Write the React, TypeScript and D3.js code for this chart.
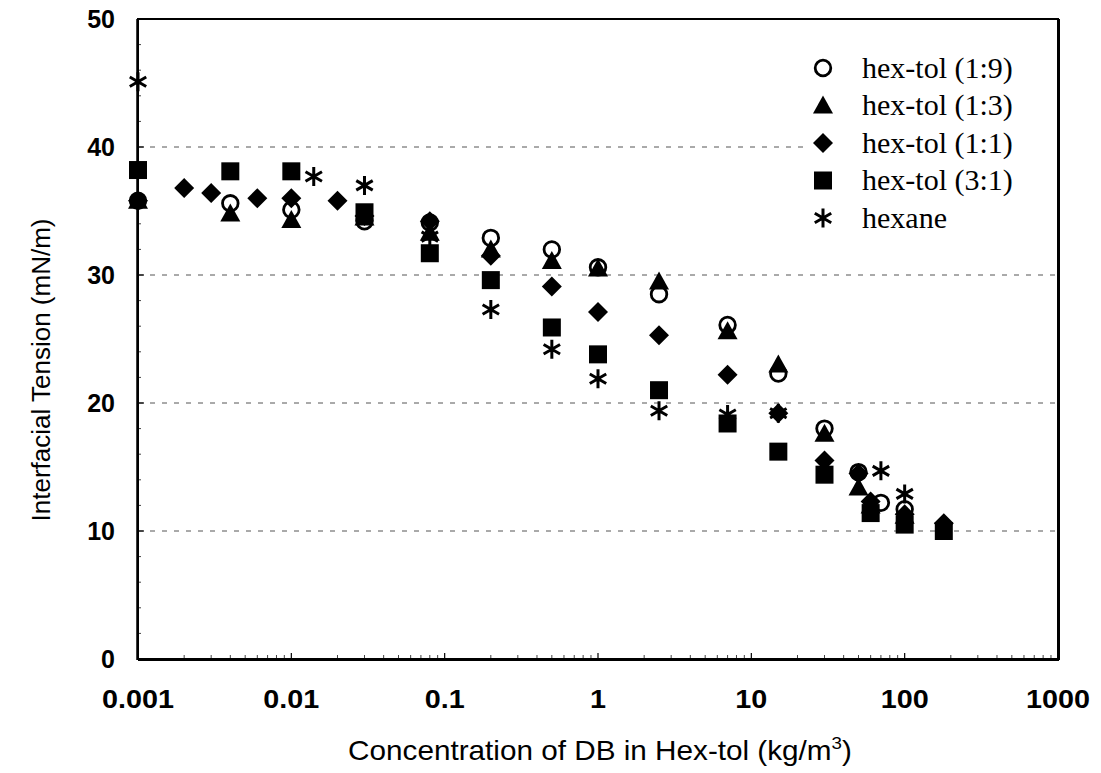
import React from "react";
import * as d3 from "d3";

const xTicks = [0.001, 0.01, 0.1, 1, 10, 100, 1000];
const xTickLabels = ["0.001", "0.01", "0.1", "1", "10", "100", "1000"];
const yTicks = [0, 10, 20, 30, 40, 50];
const gridValues = [10, 20, 30, 40];

const circleX = [0.001, 0.004, 0.01, 0.03, 0.08, 0.2, 0.5, 1, 2.5, 7, 15, 30, 50, 70, 100];
const circleY = [35.8, 35.6, 35.1, 34.2, 34.1, 32.9, 32.0, 30.6, 28.5, 26.1, 22.3, 18.0, 14.6, 12.2, 11.7];

const triangleX = [0.001, 0.004, 0.01, 0.03, 0.08, 0.2, 0.5, 1, 2.5, 7, 15, 30, 50, 60, 100];
const triangleY = [35.8, 34.8, 34.3, 34.5, 33.3, 32.0, 31.1, 30.5, 29.5, 25.6, 23.0, 17.6, 13.4, 12.0, 11.2];

const diamondX = [0.001, 0.002, 0.003, 0.006, 0.01, 0.02, 0.03, 0.08, 0.2, 0.5, 1, 2.5, 7, 15, 30, 50, 60, 100, 180];
const diamondY = [35.8, 36.8, 36.4, 36.0, 36.0, 35.8, 34.6, 34.2, 31.5, 29.1, 27.1, 25.3, 22.2, 19.2, 15.5, 14.5, 12.3, 11.3, 10.6];

const squareX = [0.001, 0.004, 0.01, 0.03, 0.08, 0.2, 0.5, 1, 2.5, 7, 15, 30, 60, 100, 180];
const squareY = [38.2, 38.1, 38.1, 34.9, 31.7, 29.6, 25.9, 23.8, 21.0, 18.4, 16.2, 14.4, 11.4, 10.5, 10.0];

const starX = [0.001, 0.014, 0.03, 0.08, 0.2, 0.5, 1, 2.5, 7, 15, 70, 100];
const starY = [45.1, 37.7, 37.0, 33.0, 27.3, 24.2, 21.9, 19.4, 19.1, 19.2, 14.7, 12.9];

const legendLabels = ["hex-tol (1:9)", "hex-tol (1:3)", "hex-tol (1:1)", "hex-tol (3:1)", "hexane"];
const legendShapes = ["circle", "triangle", "diamond", "square", "star"];

const W = 1101, H = 773;
const L = 138, R = 1058, T = 19, B = 659;

function Marker({ shape, x, y }: { shape: string; x: number; y: number }) {
  if (shape === "circle") {
    return <circle cx={x} cy={y} r={7.8} fill="none" stroke="#000" strokeWidth={2.8} />;
  }
  if (shape === "triangle") {
    const s = 10;
    return <path d={`M${x},${y - s}L${x + s},${y + s * 0.8}L${x - s},${y + s * 0.8}Z`} fill="#000" />;
  }
  if (shape === "diamond") {
    const s = 10;
    return <path d={`M${x},${y - s}L${x + s},${y}L${x},${y + s}L${x - s},${y}Z`} fill="#000" />;
  }
  if (shape === "square") {
    const s = 9;
    return <rect x={x - s} y={y - s} width={2 * s} height={2 * s} fill="#000" />;
  }
  const s = 9.5;
  const a = s * Math.cos(Math.PI / 6);
  const b = s * Math.sin(Math.PI / 6);
  return (
    <path
      d={`M${x},${y - s}L${x},${y + s}M${x - a},${y - b}L${x + a},${y + b}M${x - a},${y + b}L${x + a},${y - b}`}
      stroke="#000"
      strokeWidth={3}
      fill="none"
    />
  );
}

export default function App() {
  const x = d3.scaleLog().domain([0.001, 1000]).range([L, R]);
  const y = d3.scaleLinear().domain([0, 50]).range([B, T]);

  const minorX: number[] = [];
  for (let e = -3; e < 3; e++) {
    for (let m = 2; m <= 9; m++) minorX.push(m * Math.pow(10, e));
  }
  const minorY = d3.range(2, 50, 2).filter((v) => v % 10 !== 0);

  const series = [
    { shape: "square", xs: squareX, ys: squareY },
    { shape: "diamond", xs: diamondX, ys: diamondY },
    { shape: "triangle", xs: triangleX, ys: triangleY },
    { shape: "circle", xs: circleX, ys: circleY },
    { shape: "star", xs: starX, ys: starY },
  ];

  const sans = "'Liberation Sans', Arial, sans-serif";
  const serif = "'Liberation Serif', 'Times New Roman', serif";
  const legendY0 = 68;
  const legendDy = 37.5;

  return (
    <svg width={W} height={H} style={{ position: "absolute", left: 0, top: 0, background: "#fff" }}>
      <rect x={0} y={0} width={W} height={H} fill="#fff" />
      {gridValues.map((v) => (
        <line key={"g" + v} x1={L} x2={R} y1={y(v)} y2={y(v)} stroke="#555" strokeWidth={1} strokeDasharray="5,7" />
      ))}
      {minorX.map((v, i) => (
        <line key={"mx" + i} x1={x(v)} x2={x(v)} y1={B} y2={B - 4} stroke="#444" strokeWidth={1} />
      ))}
      {xTicks.map((v) => (
        <line key={"tx" + v} x1={x(v)} x2={x(v)} y1={B} y2={B - 6} stroke="#000" strokeWidth={1.2} />
      ))}
      {minorY.map((v) => (
        <line key={"my" + v} x1={L} x2={L + 3} y1={y(v)} y2={y(v)} stroke="#444" strokeWidth={1} />
      ))}
      {yTicks.map((v) => (
        <line key={"ty" + v} x1={L} x2={L + 6} y1={y(v)} y2={y(v)} stroke="#000" strokeWidth={1.2} />
      ))}

      <rect x={805} y={legendY0 - 20} width={R - 805 - 2} height={legendDy * 4 + 40} fill="#fff" />

      <rect x={L} y={T} width={R - L} height={B - T} fill="none" stroke="#000" strokeWidth={2} />
      <line x1={L - 1} x2={L - 1} y1={T} y2={B + 1} stroke="#000" strokeWidth={1.5} />
      <line x1={L} x2={R + 1} y1={B + 1} y2={B + 1} stroke="#000" strokeWidth={2} />
      <line x1={R + 1} x2={R + 1} y1={T} y2={B + 1} stroke="#000" strokeWidth={2} />

      {series.map((s) =>
        s.xs.map((xv, i) => <Marker key={s.shape + i} shape={s.shape} x={x(xv)} y={y(s.ys[i])} />)
      )}

      {yTicks.map((v) => (
        <text key={"yl" + v} x={115} y={y(v)} dy="0.36em" textAnchor="end" fontFamily={sans} fontSize={25} fontWeight="bold">
          {v}
        </text>
      ))}
      {xTicks.map((v, i) => (
        <text
          key={"xl" + v}
          transform={`translate(${x(v)},699) scale(1.15,1)`}
          dy="0.36em"
          textAnchor="middle"
          fontFamily={sans}
          fontSize={25}
          fontWeight="bold"
        >
          {xTickLabels[i]}
        </text>
      ))}
      <text transform="translate(600,760) scale(1.1,1)" textAnchor="middle" fontFamily={sans} fontSize={27}>
        Concentration of DB in Hex-tol (kg/m<tspan dy={-11} fontSize={17}>3</tspan>
        <tspan dy={11}>)</tspan>
      </text>
      <text transform={`translate(41,370) rotate(-90)`} textAnchor="middle" dy="0.36em" fontFamily={sans} fontSize={26}>
        Interfacial Tension (mN/m)
      </text>

      {legendLabels.map((lab, i) => (
        <g key={"lg" + i}>
          <Marker shape={legendShapes[i]} x={823} y={legendY0 + i * legendDy} />
          <text x={862} y={legendY0 + i * legendDy} dy="0.33em" fontFamily={serif} fontSize={30}>
            {lab}
          </text>
        </g>
      ))}
    </svg>
  );
}
